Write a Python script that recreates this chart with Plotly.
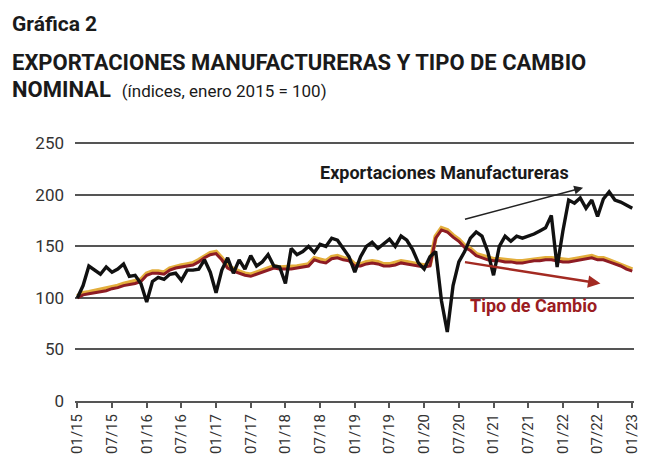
import plotly.graph_objects as go

# monthly index, enero 2015 = 100 (01/15 .. 01/23)
months = list(range(97))
exportaciones = [
    100, 112, 131, 127, 123, 130, 125, 128, 133, 121, 122, 114,   # 2015
    96, 116, 120, 118, 123, 124, 117, 127, 127, 128, 137, 125,    # 2016
    105, 127, 139, 124, 137, 128, 141, 131, 135, 142, 131, 130,   # 2017
    114, 148, 142, 145, 150, 144, 152, 150, 158, 156, 148, 140,   # 2018
    125, 140, 150, 154, 148, 152, 157, 150, 160, 156, 147, 134,   # 2019
    128, 140, 145, 97, 67, 112, 135, 145, 158, 164, 160, 145,     # 2020
    122, 150, 160, 155, 160, 158, 160, 162, 165, 168, 180, 130,   # 2021
    165, 195, 192, 197, 187, 195, 179, 196, 203, 195, 193, 190,   # 2022
    187,                                                          # 2023
]
tipo_cambio = [
    100, 103, 104, 105, 106, 107, 109, 110, 112, 113, 114, 116,
    122, 124, 124, 123, 127, 129, 130, 131, 132, 135, 139, 142,
    143, 137, 129, 126, 124, 122, 121, 123, 125, 127, 129, 128,
    128, 128, 129, 130, 131, 137, 135, 134, 138, 139, 137, 136,
    131, 131, 133, 134, 133, 131, 131, 132, 134, 133, 132, 131,
    130, 131, 158, 166, 164, 159, 155, 149, 146, 141, 139, 137,
    136, 136, 135, 135, 134, 134, 135, 136, 136, 137, 137, 136,
    135, 135, 136, 137, 138, 139, 137, 137, 135, 133, 131, 128,
    126,
]
tick_pos = list(range(0, 97, 6))
tick_text = ["01/15", "07/15", "01/16", "07/16", "01/17", "07/17", "01/18", "07/18",
             "01/19", "07/19", "01/20", "07/20", "01/21", "07/21", "01/22", "07/22", "01/23"]
y_ticks = [0, 50, 100, 150, 200, 250]

FONT = "Roboto, Arial, sans-serif"

fig = go.Figure()
# golden glow under the exchange-rate line (drawn on a slightly shifted overlay axis)
fig.add_trace(go.Scatter(x=months, y=tipo_cambio, mode="lines", yaxis="y2",
                         line=dict(color="#e3ae3c", width=4.5), hoverinfo="skip",
                         showlegend=False))
fig.add_trace(go.Scatter(x=months, y=tipo_cambio, mode="lines", yaxis="y3",
                         line=dict(color="#8e1c24", width=3), name="Tipo de Cambio",
                         showlegend=False))
fig.add_trace(go.Scatter(x=months, y=exportaciones, mode="lines", yaxis="y3",
                         line=dict(color="#111111", width=3.4),
                         name="Exportaciones Manufactureras", showlegend=False))

# page body has an 8px margin: figure is drawn at (8, 8)
OFF = 8
W, H = 656 - OFF, 468 - OFF
L, R, T, B = 67, 22, 123, 67
PW, PH = W - L - R, H - T - B


def px(x):
    return (x - OFF - L) / PW


def py(y):
    return (H - B - (y - OFF)) / PH


annotations = [
    dict(text="<b>Gráfica 2</b>", x=px(11), y=py(24), xref="paper", yref="paper",
         xanchor="left", yanchor="middle", showarrow=False, borderpad=0,
         font=dict(family=FONT, size=21, color="#1a1a1a")),
    dict(text="<b>EXPORTACIONES MANUFACTURERAS Y TIPO DE CAMBIO</b>", x=px(10), y=py(62),
         xref="paper", yref="paper", xanchor="left", yanchor="middle", showarrow=False,
         font=dict(family=FONT, size=22, color="#1a1a1a")),
    dict(text="<b>NOMINAL</b>  <span style='font-size:17px'>(índices, enero 2015 = 100)</span>",
         x=px(10), y=py(90), xref="paper", yref="paper", xanchor="left", yanchor="middle",
         showarrow=False, font=dict(family=FONT, size=22, color="#1a1a1a")),
    dict(text="<b>Exportaciones Manufactureras</b>", x=63.5, y=222, xref="x", yref="y",
         xanchor="center", yanchor="middle", showarrow=False,
         font=dict(family=FONT, size=18, color="#1a1a1a")),
    dict(text="<b>Tipo de Cambio</b>", x=79, y=93, xref="x", yref="y",
         xanchor="center", yanchor="middle", showarrow=False,
         font=dict(family=FONT, size=18, color="#9b1c22")),
    # trend arrows
    dict(x=87.5, y=207, ax=66.8, ay=176, xref="x", yref="y", axref="x", ayref="y",
         text="", showarrow=True, arrowhead=2, arrowsize=1.2, arrowwidth=1.5,
         arrowcolor="#222222"),
    dict(x=90.5, y=114, ax=66.8, ay=135, xref="x", yref="y", axref="x", ayref="y",
         text="", showarrow=True, arrowhead=2, arrowsize=1, arrowwidth=2.5,
         arrowcolor="#a32a22"),
]

fig.update_layout(
    width=W, height=H,
    margin=dict(l=L, r=R, t=T, b=B),
    paper_bgcolor="#ffffff", plot_bgcolor="#ffffff",
    showlegend=False,
    annotations=annotations,
    xaxis=dict(range=[-0.4, 96.3], tickvals=tick_pos, ticktext=tick_text,
               tickangle=-90, showgrid=False, zeroline=False,
               showline=True, linecolor="#555555", linewidth=2,
               ticks="outside", ticklen=5, tickcolor="#555555", tickwidth=1.5,
               tickfont=dict(family=FONT, size=15, color="#333333")),
    yaxis=dict(range=[0, 262], tickvals=y_ticks, showgrid=True,
               gridcolor="#555555", gridwidth=2, zeroline=False, showline=False,
               ticks="", ticklabelstandoff=10,
               tickfont=dict(family=FONT, size=17, color="#333333")),
    yaxis2=dict(range=[-1.6, 260.4], overlaying="y", visible=False),
    yaxis3=dict(range=[0, 262], overlaying="y", visible=False),
)

fig.write_html("out.html")
